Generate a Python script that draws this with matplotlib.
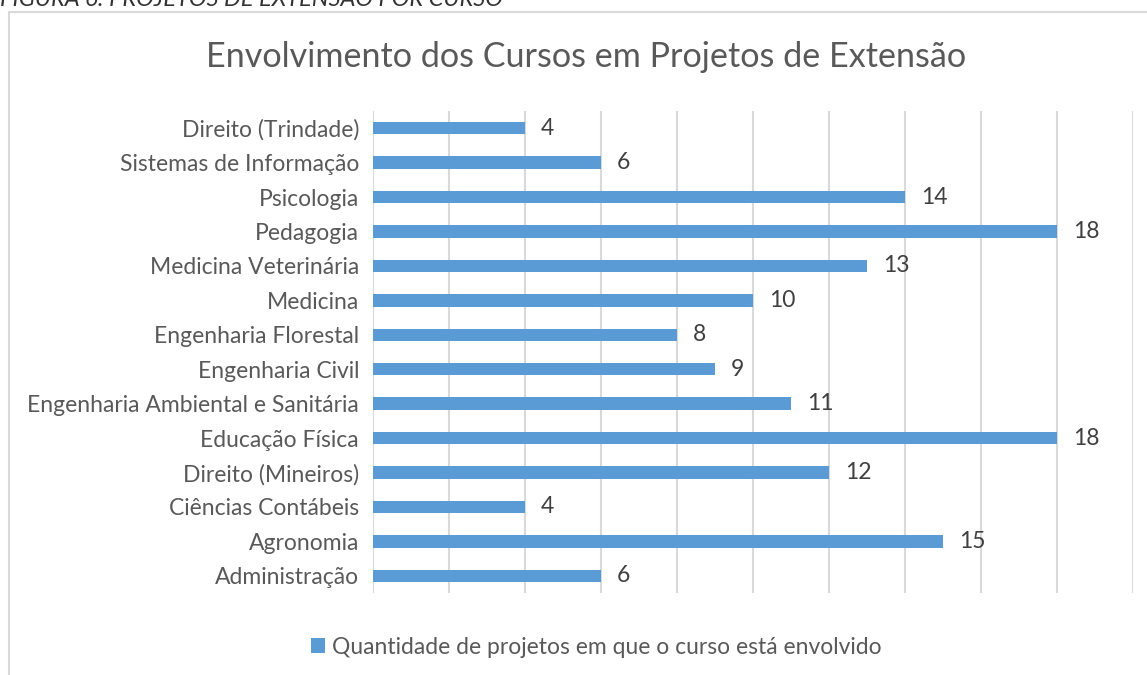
import matplotlib.pyplot as plt
from matplotlib.patches import Rectangle

plt.rcParams['font.family'] = ['Lato', 'DejaVu Sans']

# cursos listados de baixo para cima, como no gráfico
cursos = [
    'Administração', 'Agronomia', 'Ciências Contábeis', 'Direito (Mineiros)',
    'Educação Física', 'Engenharia Ambiental e Sanitária', 'Engenharia Civil',
    'Engenharia Florestal', 'Medicina', 'Medicina Veterinária', 'Pedagogia',
    'Psicologia', 'Sistemas de Informação', 'Direito (Trindade)',
]
projetos = [6, 15, 4, 12, 18, 11, 9, 8, 10, 13, 18, 14, 6, 4]
serie = 'Quantidade de projetos em que o curso está envolvido'
titulo = 'Envolvimento dos Cursos em Projetos de Extensão'
legenda_figura = 'FIGURA 6: PROJETOS DE EXTENSÃO POR CURSO'

W, H = 1147, 675
fig = plt.figure(figsize=(W / 100, H / 100), dpi=100)
ax = fig.add_axes([373 / W, 1 - 593 / H, (1133 - 373) / W, (593 - 111) / H])

azul = '#5B9BD5'
cinza_txt = '#595959'
cinza_grade = '#D9D9D9'
tam = 16.5

pos = range(len(cursos))
barras = ax.barh(pos, projetos, height=0.36, color=azul, label=serie, zorder=3)
for b, v in zip(barras, projetos):
    ax.text(v + 0.42, b.get_y() + b.get_height() / 2, str(v),
            va='center', ha='left', fontsize=tam, color='#404040')

ax.set_xlim(0, 20)
ax.set_ylim(-0.5, len(cursos) - 0.5)
ax.set_xticks(range(0, 21, 2))
ax.set_xticklabels([])
ax.set_yticks(list(pos))
ax.set_yticklabels(cursos, fontsize=tam, color=cinza_txt)
ax.tick_params(axis='both', length=0)
ax.tick_params(axis='y', pad=10)
ax.grid(axis='x', color=cinza_grade, linewidth=1.5, zorder=0)
for s in ax.spines.values():
    s.set_visible(False)

fig.text(586 / W, 1 - 67 / H, titulo, ha='center', va='baseline',
         fontsize=24.6, color=cinza_txt)

fig.legend(loc='center', bbox_to_anchor=(596 / W, 1 - 647 / H), frameon=False,
           fontsize=tam, labelcolor=cinza_txt, handlelength=0.6,
           handleheight=0.6, handletextpad=0.3)

# moldura do gráfico
fig.add_artist(Rectangle((9 / W, -0.1), 1.2, 1 - 12 / H + 0.1,
                         transform=fig.transFigure, fill=False,
                         edgecolor=cinza_grade, linewidth=1.5, clip_on=False))

# legenda da figura, cortada na borda superior
fig.text(0, 1 - 6 / H, legenda_figura, ha='left', va='baseline',
         fontsize=17, style='italic', color='#333333')

fig.savefig('out.png', dpi=100)
